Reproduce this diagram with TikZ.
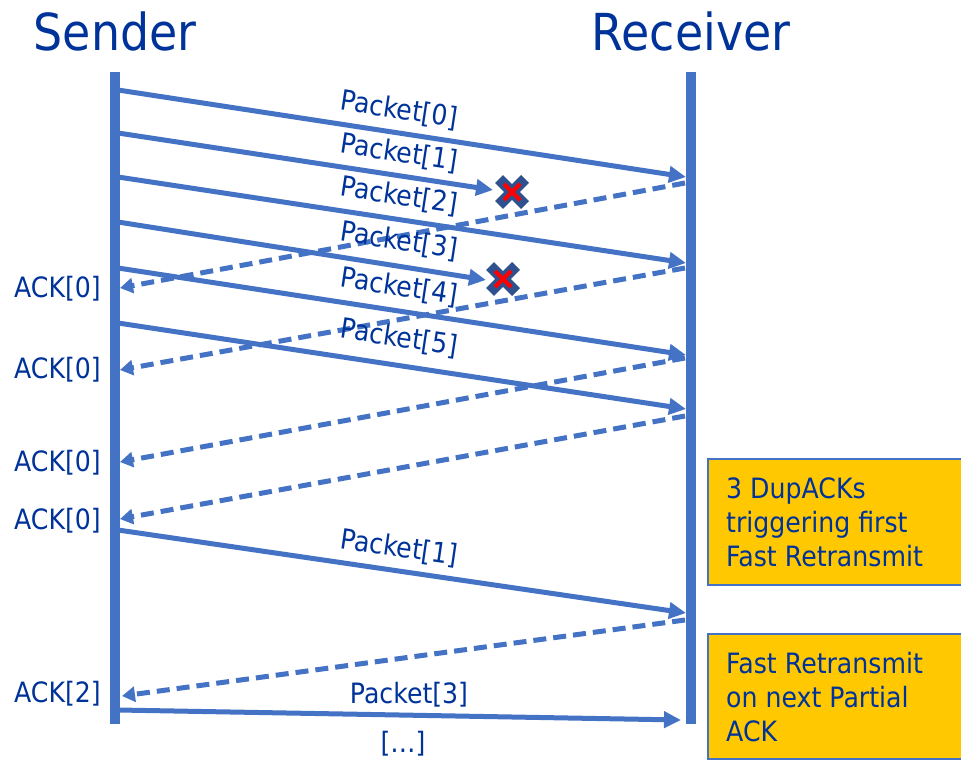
\documentclass[tikz,border=0pt]{standalone}
\usepackage{fontspec}
\setmainfont{DejaVu Sans}[FakeStretch=0.9]
\usetikzlibrary{arrows.meta}
\definecolor{txt}{RGB}{0,51,153}
\definecolor{ln}{RGB}{68,114,196}
\definecolor{gold}{RGB}{255,200,0}
\definecolor{xblue}{RGB}{47,82,143}
\begin{document}
\begin{tikzpicture}[x=1pt,y=-1pt,
  lifeline/.style={draw=ln, line width=10pt},
  pkt/.style={draw=ln, line width=5pt, -{Triangle[length=17pt,width=16pt]}},
  ack/.style={draw=ln, line width=5pt, dash pattern=on 13pt off 7pt, -{Triangle[length=13pt,width=15pt]}},
  lbl/.style={text=txt, font=\fontsize{28}{34}\selectfont, inner sep=0pt},
  title/.style={text=txt, font=\fontsize{51}{60}\selectfont, inner sep=0pt},
  plbl/.style={lbl, rotate=-8.7},
  acklbl/.style={lbl, anchor=east},
  note/.style={draw=ln, line width=1.5pt, fill=gold, minimum width=270pt, anchor=north west},
  notetext/.style={lbl, align=left, anchor=west},
  lost/.pic={
    \draw[xblue, line width=11pt] (-13,-13)--(13,13) (-13,13)--(13,-13);
    \draw[red, line width=4pt] (-8,-8)--(8,8) (-8,8)--(8,-8);
  }]
\useasboundingbox (0,0) rectangle (961,760);

% titles
\node[title] (sender) at (115,31) {Sender};
\node[title] (receiver) at (691,31) {Receiver};

% lifelines
\coordinate (stop) at (115,72);
\coordinate (sbot) at (115,724);
\coordinate (rtop) at (691,72);
\coordinate (rbot) at (691,724);
\draw[lifeline] (stop) -- (sbot);
\draw[lifeline] (rtop) -- (rbot);

% endpoints on sender side
\coordinate (s0) at (118,90);
\coordinate (s1) at (118,133);
\coordinate (s2) at (118,177);
\coordinate (s3) at (118,222);
\coordinate (s4) at (118,268);
\coordinate (s5) at (118,323);
\coordinate (s6) at (118,530);
\coordinate (s7) at (118,710);
\coordinate (sa1) at (120,288);
\coordinate (sa2) at (120,370);
\coordinate (sa3) at (120,462);
\coordinate (sa4) at (120,519);
\coordinate (sa5) at (122,696);

% endpoints on receiver side
\coordinate (r0) at (686,177);
\coordinate (r2) at (686,263);
\coordinate (r4) at (686,355);
\coordinate (r5) at (686,409);
\coordinate (r6) at (686,613);
\coordinate (r7) at (681,720);
\coordinate (ra1) at (685,183);
\coordinate (ra2) at (685,268);
\coordinate (ra3) at (685,358);
\coordinate (ra4) at (685,416);
\coordinate (ra5) at (685,620);

% lost packets
\coordinate (l1) at (493,190);
\coordinate (l3) at (486,280);

% packets
\draw[pkt] (s0) -- (r0);
\draw[pkt] (s1) -- (l1);
\draw[pkt] (s2) -- (r2);
\draw[pkt] (s3) -- (l3);
\draw[pkt] (s4) -- (r4);
\draw[pkt] (s5) -- (r5);
\draw[pkt] (s6) -- (r6);
\draw[pkt] (s7) -- (r7);

% acks
\draw[ack] (ra1) -- (sa1);
\draw[ack] (ra2) -- (sa2);
\draw[ack] (ra3) -- (sa3);
\draw[ack] (ra4) -- (sa4);
\draw[ack] (ra5) -- (sa5);

% loss markers
\pic at (512,192) {lost};
\pic at (503,279) {lost};

% packet labels
\node[plbl] (p0) at (399,110) {Packet[0]};
\node[plbl] (p1) at (399,153) {Packet[1]};
\node[plbl] (p2) at (399,196) {Packet[2]};
\node[plbl] (p3) at (399,241) {Packet[3]};
\node[plbl] (p4) at (399,287) {Packet[4]};
\node[plbl] (p5) at (399,338) {Packet[5]};
\node[plbl, rotate=0.4] (p1b) at (399,548) {Packet[1]};
\node[lbl] (p3b) at (409,695) {Packet[3]};
\node[lbl] (more) at (403,744) {[…]};

% ack labels
\node[acklbl] (a1) at (101,289) {ACK[0]};
\node[acklbl] (a2) at (101,370) {ACK[0]};
\node[acklbl] (a3) at (101,463) {ACK[0]};
\node[acklbl] (a4) at (101,521) {ACK[0]};
\node[acklbl] (a5) at (101,694) {ACK[2]};

% notes
\node[note, minimum height=126pt] (n1) at (707,458) {};
\node[notetext] (n1t) at (726,522) {3 DupACKs\\triggering first\\Fast Retransmit};
\node[note, minimum height=125pt] (n2) at (707,633) {};
\node[notetext] (n2t) at (726,697) {Fast Retransmit\\on next Partial\\ACK};
\end{tikzpicture}
\end{document}
